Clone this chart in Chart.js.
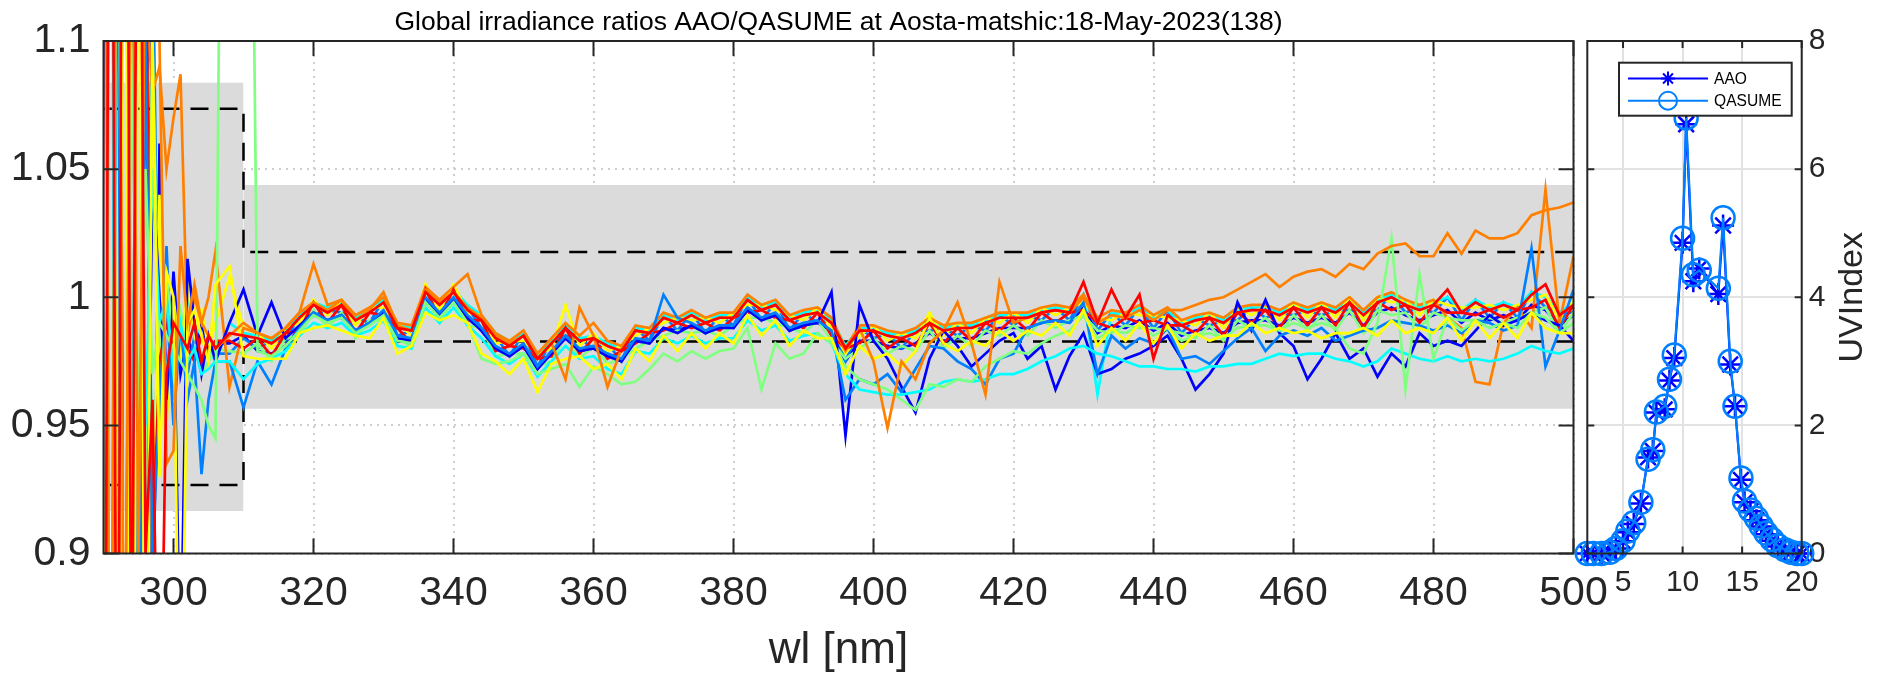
<!DOCTYPE html>
<html><head><meta charset="utf-8">
<script src="https://cdn.jsdelivr.net/npm/chart.js@4.4.1/dist/chart.umd.min.js"></script>
<style>
html,body{margin:0;padding:0;background:#fff;}
#wrap{position:relative;width:1887px;height:683px;overflow:hidden;background:#fff;}
#main{position:absolute;left:0;top:0;}
#uv{position:absolute;left:1540px;top:0;}
</style></head><body>
<div id="wrap"><canvas id="main" width="1887" height="683"></canvas><canvas id="uv" width="347" height="683"></canvas></div>
<script>
const TITLE = 'Global irradiance ratios AAO/QASUME at Aosta-matshic:18-May-2023(138)';
const X_LABEL = 'wl [nm]';
const UV_LABEL = 'UVIndex';

const WL = [290,291,292,293,294,295,296,297,298,299,300,301,302,303,304,305,306,
308,310,312,314,316,318,320,322,324,326,
328,330,332,334,336,338,340,342,344,346,
348,350,352,354,356,358,360,362,364,366,
368,370,372,374,376,378,380,382,384,386,
388,390,392,394,396,398,400,402,404,406,
408,410,412,414,416,418,420,422,424,426,
428,430,432,434,436,438,440,442,444,446,
448,450,452,454,456,458,460,462,464,466,
468,470,472,474,476,478,480,482,484,486,
488,490,492,494,496,498,500];

const R01 = [1.4,0.6,1.5,0.7,1.3,0.8,1.2,0.85,1.06,0.96,1.01,0.97,0.985,0.975,0.99,0.98,0.982,
0.982,0.985,0.979,0.978,0.981,0.988,0.993,0.991,0.992,0.987,
0.990,0.994,0.984,0.983,0.998,0.993,0.998,0.992,0.987,0.980,
0.977,0.981,0.972,0.979,0.984,0.979,0.980,0.978,0.975,0.983,
0.982,0.988,0.987,0.989,0.986,0.989,0.988,0.996,0.991,0.993,
0.987,0.989,0.990,0.987,0.975,0.983,0.983,0.981,0.980,0.982,
0.986,0.983,0.984,0.984,0.986,0.988,0.988,0.988,0.990,0.991,
0.990,0.996,0.986,0.989,0.988,0.991,0.987,0.990,0.985,0.987,
0.988,0.986,0.990,0.991,0.991,0.989,0.992,0.990,0.992,0.990,
0.994,0.989,0.994,0.996,0.993,0.991,0.993,0.995,0.990,0.994,
0.991,0.993,0.991,0.997,0.995,0.989,0.993];

const R02 = [0.6,1.5,0.7,1.4,0.75,1.3,0.8,1.15,0.94,1.02,0.96,0.99,0.97,0.985,0.975,0.98,0.978,
0.978,0.984,0.980,0.983,0.983,0.993,0.993,0.995,0.994,0.992,
0.990,0.999,0.985,0.987,0.999,0.998,0.998,0.996,0.988,0.985,
0.977,0.986,0.973,0.983,0.985,0.984,0.980,0.982,0.975,0.988,
0.983,0.993,0.987,0.994,0.986,0.993,0.989,1.000,0.991,0.998,
0.987,0.994,0.990,0.991,0.975,0.988,0.984,0.986,0.980,0.987,
0.987,0.988,0.985,0.989,0.987,0.993,0.989,0.993,0.991,0.996,
0.991,1.001,0.987,0.994,0.989,0.996,0.988,0.995,0.986,0.992,
0.989,0.991,0.991,0.996,0.992,0.994,0.993,0.995,0.993,0.995,
0.995,0.994,0.995,1.001,0.994,0.996,0.994,1.000,0.991,0.999,
0.992,0.998,0.992,1.002,0.996,0.994,0.994];

const R03 = [1.5,0.7,1.4,0.6,1.2,0.9,1.12,0.92,1.0,0.97,0.99,0.98,1.0,0.99,0.985,0.98,0.975,
0.990,0.986,0.985,0.983,0.987,0.993,0.998,0.996,0.998,0.992,
0.995,0.999,0.989,0.988,1.003,0.998,1.003,0.997,0.993,0.986,
0.983,0.986,0.977,0.983,0.989,0.984,0.985,0.982,0.980,0.988,
0.987,0.993,0.991,0.994,0.991,0.993,0.993,1.000,0.996,0.998,
0.992,0.994,0.995,0.991,0.981,0.988,0.988,0.986,0.985,0.987,
0.991,0.988,0.989,0.989,0.991,0.993,0.993,0.993,0.995,0.996,
0.995,1.001,0.962,0.994,0.993,0.996,0.992,0.995,0.990,0.992,
0.993,0.991,0.995,0.996,0.996,0.994,0.997,0.995,0.997,0.995,
0.999,0.994,0.999,1.001,0.998,0.996,0.998,1.000,0.995,0.999,
0.996,0.998,0.996,1.002,1.000,0.994,0.998];

const R04 = [0.5,1.6,0.6,1.5,0.8,1.25,0.9,1.1,0.97,1.01,0.98,0.995,0.98,0.99,0.97,0.975,0.98,
0.979,0.978,0.982,0.975,0.984,0.985,0.995,0.988,0.994,0.984,
0.991,0.991,0.985,0.980,1.000,0.990,1.000,0.989,0.988,0.977,
0.978,0.978,0.973,0.975,0.985,0.976,0.981,0.974,0.976,0.980,
0.983,0.985,0.987,0.986,0.987,0.985,0.989,0.992,0.992,0.990,
0.988,0.986,0.991,0.983,0.976,0.980,0.984,0.978,0.981,0.979,
0.987,0.980,0.985,0.981,0.987,0.985,0.989,0.985,0.991,0.988,
0.991,0.993,0.987,0.986,0.989,0.988,0.988,0.987,0.986,0.984,
0.989,0.983,0.991,0.988,0.992,0.986,0.993,0.987,0.993,0.987,
0.995,0.986,0.995,0.993,0.994,0.988,0.994,0.992,0.991,0.991,
0.992,0.990,0.992,0.994,0.996,0.986,0.994];

const R05 = [1.6,0.5,1.5,0.6,1.3,0.75,1.15,0.88,1.04,0.95,1.0,0.975,1.005,0.985,0.995,0.98,0.99,
1.008,0.988,0.986,0.980,0.988,0.990,0.999,0.993,0.999,0.989,
0.996,0.996,0.990,0.985,1.005,0.995,1.005,0.994,0.993,0.982,
0.983,0.983,0.978,0.980,0.997,0.981,0.986,0.979,0.981,0.985,
0.988,0.990,0.992,0.991,0.992,0.990,0.994,0.997,0.997,0.995,
0.993,0.991,0.996,0.988,0.978,0.985,0.989,0.983,0.986,0.984,
0.994,0.985,0.990,0.986,0.992,0.990,0.994,0.990,0.996,0.993,
0.996,0.998,0.992,0.991,0.994,0.993,0.993,0.992,0.991,0.989,
0.994,0.988,0.996,0.993,0.997,0.991,0.998,0.992,0.998,0.992,
1.000,0.991,1.000,0.998,0.999,0.993,0.999,0.997,0.996,0.996,
0.997,0.995,0.997,0.999,1.001,0.991,0.999];

const R06 = [0.7,1.4,0.8,1.3,0.9,1.2,1.12,1.08,1.09,1.05,1.07,1.087,0.985,1.0,0.99,1.0,1.018,
0.965,0.988,0.986,0.984,0.988,0.994,1.013,0.997,0.999,0.993,
0.996,1.000,0.990,0.989,1.004,0.999,1.004,1.009,0.993,0.986,
0.983,0.987,0.978,0.984,0.990,0.985,0.990,0.983,0.981,0.989,
0.988,0.994,0.992,0.995,0.992,0.994,0.994,1.001,0.997,0.999,
0.993,0.995,0.996,0.992,0.980,0.989,0.989,0.987,0.986,0.988,
0.992,0.989,0.990,0.990,0.992,0.994,0.994,0.994,0.996,0.997,
0.996,1.001,0.992,0.995,0.994,0.997,0.993,0.996,0.991,0.993,
0.994,0.992,0.996,0.997,0.997,0.995,0.998,0.996,0.998,0.996,
1.000,0.995,1.000,1.002,0.999,0.997,0.999,0.992,0.988,0.967,
0.966,0.990,0.996,0.988,1.042,0.990,1.016];

const R07 = [1.3,0.6,1.4,0.7,1.2,0.8,1.15,0.9,0.975,0.99,0.98,0.985,0.98,0.975,0.985,0.98,0.983,
0.983,0.980,0.984,0.977,0.986,0.987,0.998,0.990,0.997,0.986,
0.994,0.993,0.988,0.982,1.003,0.992,1.003,0.991,0.991,0.979,
0.981,0.980,0.976,0.977,0.988,0.978,0.984,0.976,0.979,0.982,
0.986,0.987,0.990,0.988,0.990,0.987,0.992,0.994,0.995,0.992,
0.991,0.988,0.994,0.985,0.980,0.982,0.987,0.980,0.984,0.981,
0.990,0.982,0.988,0.983,0.990,0.987,0.992,0.987,0.994,0.990,
0.994,0.995,0.990,0.988,0.992,0.990,0.991,0.989,0.989,0.986,
0.992,0.985,0.994,0.990,0.995,0.988,0.996,0.989,0.996,0.989,
0.998,0.988,0.998,0.995,0.997,0.990,0.997,0.994,0.994,0.993,
0.995,0.992,0.995,0.996,0.999,0.988,0.997];

const R08 = [0.7,1.5,0.6,1.4,0.8,1.3,0.85,1.05,1.0,0.96,1.0,0.85,1.015,0.99,0.97,0.985,0.975,
0.990,1.003,0.985,0.998,0.984,0.989,0.994,0.991,0.993,0.987,
0.990,0.994,0.984,0.983,0.999,0.993,0.999,0.992,0.987,0.980,
0.977,0.981,0.972,0.978,0.984,0.979,0.980,0.977,0.975,0.983,
0.982,0.988,0.986,0.989,0.986,0.988,0.988,0.995,0.991,0.993,
0.987,0.989,0.990,1.002,0.946,0.997,0.983,0.976,0.965,0.955,
0.976,0.987,0.981,0.973,0.978,0.983,0.986,0.976,0.981,0.964,
0.977,0.986,0.970,0.972,0.976,0.978,0.981,0.985,0.976,0.964,
0.970,0.978,0.998,0.987,0.999,0.986,0.981,0.968,0.976,0.986,
0.976,0.980,0.969,0.978,0.973,0.986,0.981,0.983,0.981,0.987,
0.993,0.989,0.991,0.994,0.991,0.989,0.983];

const R09 = [1.3,0.7,1.2,0.6,1.4,0.8,1.1,0.9,0.96,1.0,0.95,0.99,0.96,0.975,0.931,0.96,0.975,
0.975,0.957,0.975,0.966,0.980,0.988,0.994,0.991,0.993,0.987,
0.990,0.995,0.985,0.984,1.000,0.994,1.000,0.993,0.988,0.981,
0.978,0.982,0.973,0.979,0.985,0.980,0.981,0.978,0.976,0.984,
0.983,1.001,0.992,0.990,0.987,0.989,0.989,0.996,0.992,0.994,
0.988,0.990,0.991,0.987,0.960,0.968,0.966,0.970,0.963,0.972,
0.981,0.980,0.975,0.972,0.966,0.976,0.978,0.988,0.990,0.991,
0.990,0.998,0.970,0.985,0.980,0.984,0.982,0.988,0.976,0.977,
0.974,0.979,0.984,0.988,0.979,0.985,0.987,0.985,0.988,0.983,
0.985,0.987,0.988,0.991,0.990,0.989,0.987,0.989,0.986,0.991,
0.990,0.987,0.989,1.019,0.973,0.987,1.003];

const R10 = [0.6,1.3,0.7,1.5,0.9,1.2,0.95,1.05,0.99,1.0,0.97,0.99,0.975,0.98,0.97,0.972,0.975,
0.975,0.968,0.974,0.976,0.979,0.985,0.990,0.988,0.990,0.985,
0.987,0.991,0.981,0.980,0.996,0.990,0.996,0.989,0.984,0.977,
0.974,0.978,0.969,0.975,0.981,0.976,0.977,0.972,0.970,0.979,
0.978,0.984,0.982,0.985,0.982,0.984,0.984,0.991,0.987,0.989,
0.983,0.985,0.986,0.982,0.970,0.964,0.963,0.962,0.962,0.963,
0.964,0.967,0.968,0.967,0.968,0.970,0.970,0.972,0.975,0.977,
0.980,0.981,0.978,0.977,0.975,0.973,0.973,0.972,0.972,0.971,
0.973,0.973,0.974,0.974,0.976,0.978,0.977,0.978,0.978,0.976,
0.975,0.973,0.975,0.980,0.978,0.976,0.975,0.977,0.975,0.976,
0.975,0.976,0.978,0.981,0.979,0.978,0.980];

const R11 = [1.5,0.6,1.3,0.7,1.1,0.95,1.05,0.97,0.99,0.985,0.98,0.975,0.97,0.965,0.96,0.95,0.945,
1.6,1.5,0.979,0.977,0.981,0.987,0.993,0.990,0.992,0.986,
0.989,0.993,0.983,0.982,0.998,0.992,0.998,0.990,0.976,0.974,
0.975,0.978,0.970,0.972,0.974,0.965,0.973,0.970,0.966,0.967,
0.972,0.978,0.975,0.979,0.976,0.979,0.980,0.988,0.964,0.982,
0.976,0.978,0.986,0.982,0.973,0.968,0.966,0.964,0.960,0.956,
0.966,0.965,0.968,0.967,0.973,0.976,0.979,0.978,0.982,0.985,
0.987,0.993,0.984,0.987,0.986,0.989,0.985,0.988,0.983,0.985,
0.986,0.984,0.988,0.989,0.989,0.987,0.990,0.988,0.990,0.988,
0.980,0.978,0.990,1.023,0.964,1.009,0.976,0.992,0.987,0.991,
0.988,0.990,0.988,0.994,0.992,0.986,0.990];

const R12 = [0.6,1.6,0.7,1.3,0.6,1.2,0.8,1.1,0.93,1.01,1.0,0.8,0.99,0.995,0.985,0.975,1.005,
1.012,0.977,0.976,0.976,0.976,0.986,0.988,0.989,0.987,0.985,
0.984,0.992,0.978,0.981,0.994,0.991,0.993,0.990,0.978,0.975,
0.970,0.976,0.963,0.974,0.976,0.977,0.972,0.974,0.968,0.980,
0.975,0.985,0.979,0.986,0.980,0.986,0.982,0.993,0.985,0.991,
0.981,0.987,0.984,0.984,0.970,0.981,0.976,0.978,0.973,0.979,
0.992,0.982,0.979,0.983,0.981,0.987,0.983,0.987,0.985,0.990,
0.985,0.995,0.981,0.988,0.983,0.990,0.982,0.989,0.980,0.986,
0.983,0.985,0.985,0.990,0.986,0.988,0.986,0.987,0.984,0.986,
0.986,0.988,0.985,0.991,0.986,0.988,0.986,0.992,0.983,0.991,
0.984,0.990,0.984,0.994,0.988,0.986,0.986];

const R13 = [1.4,0.7,1.3,0.8,1.2,0.9,1.15,1.2,1.1,0.935,0.94,1.02,0.99,1.005,0.99,0.985,0.98,
0.985,0.990,0.986,0.984,0.988,0.994,0.998,0.995,0.999,0.991,
0.995,1.002,0.989,0.987,1.003,0.998,1.002,0.996,0.992,0.985,
0.982,0.985,0.976,0.982,0.968,0.996,0.985,0.965,0.980,0.987,
0.986,0.992,0.990,0.993,0.990,0.992,0.992,0.999,0.995,0.997,
0.991,0.993,0.994,0.990,0.979,0.988,0.975,0.949,0.975,0.968,
0.982,0.987,0.998,0.982,0.962,1.006,0.990,0.992,0.994,0.995,
0.994,1.000,0.990,0.993,0.992,0.995,0.991,0.995,0.995,0.997,
0.999,1.000,1.003,1.006,1.009,1.004,1.008,1.010,1.011,1.008,
1.013,1.011,1.017,1.020,1.021,1.016,1.016,1.025,1.017,1.026,
1.023,1.023,1.025,1.032,1.034,1.035,1.037];

const R14 = [0.6,1.4,0.7,1.5,0.8,1.3,0.9,0.96,0.8,0.97,0.99,0.985,0.98,0.99,0.975,0.985,0.98,
0.986,0.985,0.984,0.982,0.986,0.992,0.997,0.994,0.997,0.991,
0.994,0.998,0.988,0.987,1.002,0.997,1.002,0.995,0.991,0.984,
0.981,0.985,0.976,0.982,0.988,0.983,0.984,0.981,0.979,0.987,
0.986,0.992,0.990,0.993,0.990,0.992,0.992,0.999,0.995,0.997,
0.991,0.993,0.994,0.990,0.980,0.987,0.987,0.985,0.984,0.986,
0.990,0.987,0.988,0.988,0.990,0.992,0.992,0.992,0.994,0.995,
0.994,1.006,0.990,1.003,0.992,1.001,0.976,0.993,0.989,0.991,
0.992,0.990,0.994,0.995,0.995,0.993,0.996,0.994,0.996,0.994,
0.998,0.993,0.998,1.000,0.997,0.995,0.997,1.003,0.994,0.998,
0.995,0.997,0.995,1.001,1.005,0.993,0.997];

const SERIES = [R01,R02,R03,R04,R05,R06,R07,R08,R09,R10,R11,R12,R13,R14];

// tolerance limits (stair-shaped) and shaded bands
const LIM_X  = [290, 310, 310, 500];
const LIM_HI = [1.0736, 1.0736, 1.0177, 1.0177];
const LIM_LO = [0.9267, 0.9267, 0.9827, 0.9827];
const BAND1_X = [290, 310], BAND1_HI = [1.0837, 1.0837], BAND1_LO = [0.9166, 0.9166];
const BAND2_X = [310, 500], BAND2_HI = [1.0438, 1.0438], BAND2_LO = [0.9565, 0.9565];

const X_TICKS = [300,320,340,360,380,400,420,440,460,480,500];
const Y_TICKS = [0.9,0.95,1,1.05,1.1];
const Y_TICK_LABELS = ['0.9','0.95','1','1.05','1.1'];

// UV index time series
const UV_HOURS  = [2.0,2.5,3.2,3.9,4.4,5.0,5.4,5.9,6.5,7.1,7.5,7.8,8.5,8.9,9.3,10.0,10.3,10.9,11.4,13.0,13.4,14.0,14.4,14.9,15.2,15.7,16.2,16.6,17.0,17.5,18.0,18.6,19.1,19.6,20.0];
const UV_AAO    = [0,0,0,0.02,0.08,0.19,0.33,0.46,0.78,1.5,1.6,2.2,2.25,2.7,3.05,4.85,6.7,4.25,4.45,4.05,5.12,2.95,2.3,1.15,0.8,0.66,0.52,0.42,0.3,0.2,0.11,0.05,0.02,0,0];
const UV_QASUME = [0,0,0,0.02,0.08,0.2,0.35,0.48,0.8,1.47,1.62,2.21,2.3,2.72,3.1,4.92,6.8,4.35,4.42,4.14,5.24,3.0,2.3,1.18,0.82,0.68,0.55,0.43,0.32,0.22,0.12,0.06,0.02,0,0];
const UV_SERIES_NAMES = ['AAO','QASUME'];
const UV_X_TICKS = [5,10,15,20];
const UV_Y_TICKS = [0,2,4,6,8];

// ---------- styles ----------
const FONT = "'Liberation Sans', Arial, Helvetica, sans-serif";
const AX = '#262626';
const JET = ['rgb(0,0,255)','rgb(0,128,255)','rgb(0,255,255)','rgb(128,255,128)','rgb(255,255,0)','rgb(255,128,0)','rgb(255,0,0)'];
const GRAY = 'rgb(219,219,219)';

function pts(xs, ys){ return xs.map((x,i)=>({x:x, y:ys[i]})); }

function framePlugin(xt, yt, len){
  return {
    id:'frame',
    afterDatasetsDraw(chart){
      const {ctx, chartArea:a, scales} = chart;
      const x = scales.x, y = scales.y;
      ctx.save();
      ctx.setLineDash([]);
      ctx.strokeStyle = AX; ctx.lineWidth = 2;
      ctx.beginPath();
      xt.forEach(v=>{ const p=x.getPixelForValue(v); ctx.moveTo(p,a.bottom); ctx.lineTo(p,a.bottom-len); ctx.moveTo(p,a.top); ctx.lineTo(p,a.top+len); });
      yt.forEach(v=>{ const p=y.getPixelForValue(v); ctx.moveTo(a.left,p); ctx.lineTo(a.left+len,p); ctx.moveTo(a.right,p); ctx.lineTo(a.right-len,p); });
      ctx.stroke();
      ctx.beginPath();
      ctx.rect(a.left, a.top, a.right-a.left, a.bottom-a.top);
      ctx.stroke();
      ctx.restore();
    }
  };
}

// ---------- main chart ----------
const mainSets = [];
SERIES.forEach((s,i)=>{
  mainSets.push({
    label:'R'+(i+1), data: pts(WL, s), borderColor: JET[i%7], borderWidth: 2.7,
    pointRadius: 0, fill: false, tension: 0, order: SERIES.length - i
  });
});
mainSets.push({label:'limHi', data: pts(LIM_X, LIM_HI), borderColor:'#000', borderWidth:2.5, borderDash:[18,11], pointRadius:0, fill:false, order:900});
mainSets.push({label:'limLo', data: pts(LIM_X, LIM_LO), borderColor:'#000', borderWidth:2.5, borderDash:[18,11], pointRadius:0, fill:false, order:900});
mainSets.push({label:'b1hi', data: pts(BAND1_X, BAND1_HI), borderColor:'rgba(0,0,0,0)', borderWidth:1, pointRadius:0, fill:'+1', backgroundColor:GRAY, order:1000});
mainSets.push({label:'b1lo', data: pts(BAND1_X, BAND1_LO), borderColor:'rgba(0,0,0,0)', borderWidth:1, pointRadius:0, fill:false, order:1000});
mainSets.push({label:'b2hi', data: pts(BAND2_X, BAND2_HI), borderColor:'rgba(0,0,0,0)', borderWidth:1, pointRadius:0, fill:'+1', backgroundColor:GRAY, order:1000});
mainSets.push({label:'b2lo', data: pts(BAND2_X, BAND2_LO), borderColor:'rgba(0,0,0,0)', borderWidth:1, pointRadius:0, fill:false, order:1000});

new Chart(document.getElementById('main'), {
  type:'line',
  data:{datasets: mainSets},
  options:{
    responsive:false, animation:false, devicePixelRatio:1,
    layout:{padding:{left:0, right:1887-1573.5, top:0, bottom:0}},
    plugins:{
      legend:{display:false}, tooltip:{enabled:false},
      title:{display:true, text:TITLE, fullSize:false, color:'#000',
        font:{family:FONT, size:26.5, weight:'normal'}, padding:{top:7, bottom:2.2}}
    },
    scales:{
      x:{type:'linear', min:290, max:500,
        afterBuildTicks:s=>{ s.ticks = X_TICKS.map(v=>({value:v})); },
        afterFit:s=>{ s.height = 683-553.5; },
        ticks:{font:{family:FONT, size:41}, color:AX, padding:16, maxRotation:0, autoSkip:false, callback:v=>String(v)},
        grid:{color:'rgb(205,205,205)', lineWidth:2, drawTicks:false},
        border:{display:false, dash:[2,5]},
        title:{display:true, text:X_LABEL, color:AX, font:{family:FONT, size:44}, padding:{top:0, bottom:6}}
      },
      y:{type:'linear', min:0.9, max:1.1,
        afterBuildTicks:s=>{ s.ticks = Y_TICKS.map(v=>({value:v})); },
        afterFit:s=>{ s.width = 103.5; },
        ticks:{font:{family:FONT, size:41}, color:AX, padding:13, autoSkip:false,
          callback:v=>{ const k = Y_TICKS.findIndex(t=>Math.abs(t-v)<1e-9); return k>=0 ? Y_TICK_LABELS[k] : ''; }},
        grid:{color:'rgb(205,205,205)', lineWidth:2, drawTicks:false},
        border:{display:false, dash:[2,5]}
      }
    }
  },
  plugins:[framePlugin(X_TICKS, Y_TICKS, 15)]
});

// ---------- UV index chart ----------
const UV_COLORS = ['rgb(0,0,255)','rgb(0,128,255)'];
const uvLegend = {
  id:'uvLegend',
  afterDatasetsDraw(chart){
    const ctx = chart.ctx;
    const bx = 79, by = 62.7, bw = 172.7, bh = 53;
    ctx.save();
    ctx.setLineDash([]);
    ctx.fillStyle = '#fff'; ctx.fillRect(bx, by, bw, bh);
    ctx.strokeStyle = AX; ctx.lineWidth = 2; ctx.strokeRect(bx, by, bw, bh);
    const rows = [78.5, 100.7];
    chart.data.datasets.forEach((ds,i)=>{
      const yy = rows[i];
      ctx.strokeStyle = ds.borderColor; ctx.lineWidth = 2;
      ctx.beginPath(); ctx.moveTo(88, yy); ctx.lineTo(168, yy); ctx.stroke();
      if (ds.pointStyle === 'circle') {
        ctx.beginPath(); ctx.arc(128, yy, 9, 0, Math.PI*2); ctx.stroke();
      } else {
        const r = 7;
        ctx.beginPath();
        ctx.moveTo(128-r, yy); ctx.lineTo(128+r, yy);
        ctx.moveTo(128, yy-r); ctx.lineTo(128, yy+r);
        const d = r*0.7071;
        ctx.moveTo(128-d, yy-d); ctx.lineTo(128+d, yy+d);
        ctx.moveTo(128-d, yy+d); ctx.lineTo(128+d, yy-d);
        ctx.stroke();
      }
      ctx.fillStyle = '#000'; ctx.font = '15.6px ' + FONT;
      ctx.textAlign = 'left'; ctx.textBaseline = 'middle';
      ctx.fillText(ds.label, 174, yy+1);
    });
    ctx.restore();
  }
};
const uvTitle = {
  id:'uvTitle',
  afterDraw(chart){
    const ctx = chart.ctx;
    ctx.save();
    ctx.translate(1852.5-1540, (chart.chartArea.top+chart.chartArea.bottom)/2);
    ctx.rotate(-Math.PI/2);
    ctx.fillStyle = AX; ctx.font = '34px ' + FONT;
    ctx.textAlign = 'center'; ctx.textBaseline = 'middle';
    ctx.fillText(UV_LABEL, 0, 0);
    ctx.restore();
  }
};

new Chart(document.getElementById('uv'), {
  type:'line',
  data:{datasets:[
    {label:UV_SERIES_NAMES[0], data: pts(UV_HOURS, UV_AAO), borderColor:UV_COLORS[0], borderWidth:2.2,
     pointStyle:'star', pointRadius:11, pointBorderWidth:2.5, pointBorderColor:UV_COLORS[0], pointBackgroundColor:'rgba(0,0,0,0)',
     fill:false, tension:0, clip:false, order:2},
    {label:UV_SERIES_NAMES[1], data: pts(UV_HOURS, UV_QASUME), borderColor:UV_COLORS[1], borderWidth:2.2,
     pointStyle:'circle', pointRadius:11.5, pointBorderWidth:2.5, pointBorderColor:UV_COLORS[1], pointBackgroundColor:'rgba(0,0,0,0)',
     fill:false, tension:0, clip:false, order:1}
  ]},
  options:{
    responsive:false, animation:false, devicePixelRatio:1,
    layout:{padding:{left:47.3, right:0, top:41, bottom:0}},
    plugins:{legend:{display:false}, tooltip:{enabled:false}, title:{display:false}},
    scales:{
      x:{type:'linear', min:2, max:20,
        afterBuildTicks:s=>{ s.ticks = UV_X_TICKS.map(v=>({value:v})); },
        afterFit:s=>{ s.height = 683-553.5; },
        ticks:{font:{family:FONT, size:30}, color:AX, padding:11, maxRotation:0, autoSkip:false, callback:v=>String(v)},
        grid:{color:'rgb(226,226,226)', lineWidth:2, drawTicks:false},
        border:{display:false}
      },
      y:{type:'linear', position:'right', min:0, max:8,
        afterBuildTicks:s=>{ s.ticks = UV_Y_TICKS.map(v=>({value:v})); },
        afterFit:s=>{ s.width = 347-261.7; },
        ticks:{font:{family:FONT, size:30}, color:AX, padding:7, autoSkip:false, callback:v=>String(v)},
        grid:{color:'rgb(226,226,226)', lineWidth:2, drawTicks:false},
        border:{display:false}
      }
    }
  },
  plugins:[framePlugin(UV_X_TICKS, UV_Y_TICKS, 7), uvLegend, uvTitle]
});
</script>
</body></html>
